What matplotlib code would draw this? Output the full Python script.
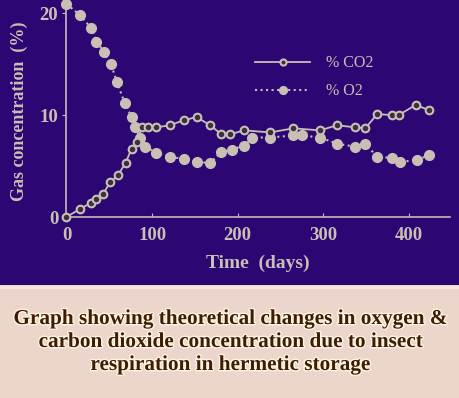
import matplotlib
matplotlib.use('Agg')
import matplotlib.pyplot as plt
import matplotlib.patheffects as pe
from matplotlib.patches import Rectangle

# data
co2_days = [0, 16, 29, 35, 43, 51, 60, 69, 76, 82, 88, 95, 105, 121, 137, 152,
            168, 181, 191, 207, 238, 265, 296, 316, 337, 349, 363, 380, 388, 408, 423]
co2_pct = [0, 0.8, 1.4, 1.8, 2.3, 3.4, 4.1, 5.3, 6.7, 7.4, 8.8, 8.8, 8.8, 9.0, 9.5, 9.8,
           9.0, 8.1, 8.1, 8.5, 8.3, 8.7, 8.5, 9.0, 8.8, 8.7, 10.1, 10.0, 10.0, 11.0, 10.5]

o2_days = [0, 16, 29, 35, 44, 52, 59, 68, 76, 80, 86, 92, 105, 121, 137, 152,
           168, 181, 193, 207, 217, 238, 265, 275, 296, 316, 337, 349, 363, 380, 390, 410, 424]
o2_pct = [20.9, 19.8, 18.5, 17.2, 16.2, 15.0, 13.2, 11.2, 9.8, 8.8, 7.8, 6.9, 6.3, 5.9, 5.7, 5.4,
          5.3, 6.4, 6.6, 7.0, 7.8, 7.8, 8.0, 8.0, 7.8, 7.2, 6.9, 7.2, 5.9, 5.8, 5.4, 5.6, 6.1]

caption = ("Graph showing theoretical changes in oxygen &\n"
           "carbon dioxide concentration due to insect\n"
           "respiration in hermetic storage")

purple = '#2c0672'
pink = '#ecd6cc'
grey = '#c9bfb5'

plt.rcParams['font.family'] = ['Liberation Serif', 'DejaVu Serif']

fig = plt.figure(figsize=(4.6, 3.98), dpi=100, facecolor=pink)
# purple chart panel on top
fig.patches.append(Rectangle((0, 1 - 285 / 398), 1, 285 / 398, transform=fig.transFigure,
                             facecolor=purple, edgecolor='none', zorder=-2))
fig.patches.append(Rectangle((0, 1 - 289 / 398), 1, 3 / 398, transform=fig.transFigure,
                             facecolor='#f4e6dc', edgecolor='none', zorder=-2))

ax = fig.add_axes([66.5 / 460, 1 - 217 / 398, (450 - 66.5) / 460, 212 / 398])
ax.set_facecolor('none')

ax.plot(o2_days, o2_pct, linestyle=':', linewidth=1.5, color=grey, marker='o',
        markersize=7, markerfacecolor=grey, markeredgecolor=grey, label='% O2',
        clip_on=False, zorder=3)
ax.plot(co2_days, co2_pct, linestyle='-', linewidth=1.3, color=grey, marker='o',
        markersize=5.5, markerfacecolor='#3a3040', markeredgecolor=grey, markeredgewidth=1.5,
        label='% CO2', clip_on=False, zorder=4)

ax.set_xlim(0, 448)
ax.set_ylim(0, 20.8)
ax.set_xticks([0, 100, 200, 300, 400])
ax.set_yticks([0, 10, 20])

for s in ['top', 'right']:
    ax.spines[s].set_visible(False)
for s in ['left', 'bottom']:
    ax.spines[s].set_color('#c8b8b8')
    ax.spines[s].set_linewidth(1.2)

ax.tick_params(axis='x', direction='in', length=3, color='#c8b8b8', labelcolor=grey,
               labelsize=13.5, pad=7)
ax.tick_params(axis='y', direction='out', length=3, color='#c8b8b8', labelcolor=grey,
               labelsize=13.5, pad=3)
for t in ax.get_xticklabels() + ax.get_yticklabels():
    t.set_fontweight('bold')

ax.set_xlabel('Time  (days)', color=grey, fontsize=14, fontweight='bold', labelpad=8)
ax.set_ylabel('Gas concentration  (%)', color=grey, fontsize=13, fontweight='bold', labelpad=8)

handles, labels = ax.get_legend_handles_labels()
leg = ax.legend(handles[::-1], labels[::-1], loc='upper left', bbox_to_anchor=(0.455, 0.83),
                frameon=False, handlelength=3.4, labelspacing=0.75, handletextpad=1.0,
                fontsize=11.5, markerscale=0.8)
for t in leg.get_texts():
    t.set_color(grey)

fig.text(0.5, 1 - 342 / 398, caption, ha='center', va='center', fontsize=15.3,
         fontweight='bold', color='#3e1c06', linespacing=1.2,
         path_effects=[pe.withStroke(linewidth=2, foreground='#fff4e0')])

fig.savefig('out.png', dpi=100, facecolor=pink)
